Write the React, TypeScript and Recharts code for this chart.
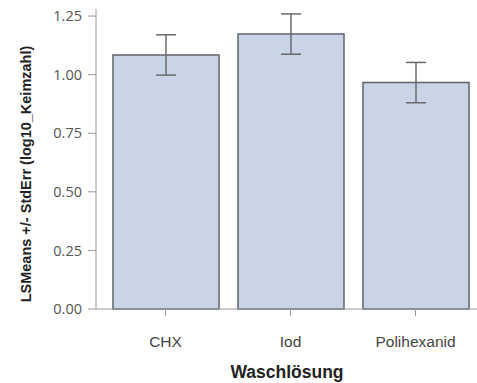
import { BarChart, Bar, XAxis, YAxis, ErrorBar, Label } from "recharts";

const categories = ["CHX", "Iod", "Polihexanid"];
const lsMeans = [1.084, 1.173, 0.966];
const stdErr = [0.086, 0.086, 0.086];
const yTicks = [0, 0.25, 0.5, 0.75, 1.0, 1.25];
const yMax = 1.28;

const data = categories.map((name, i) => ({ name, mean: lsMeans[i], err: stdErr[i] }));

const SEGOE = "'Open Sans', 'DejaVu Sans', sans-serif";
const ARIAL = "'Liberation Sans', Arial, sans-serif";

export default function App() {
  return (
    <div style={{ position: "absolute", left: 0, top: 0, width: 477, height: 383, overflow: "hidden", background: "#fff" }}>
      <BarChart width={480} height={383} data={data} margin={{ top: 9, right: 2, bottom: 0, left: 0 }}>
        <XAxis xAxisId="frame" dataKey="name" orientation="top" height={0} tick={false} tickLine={false} stroke="#d4d4d4" strokeWidth={1.5} />
        <XAxis
          dataKey="name"
          height={74}
          padding={{ left: 7, right: 0 }}
          stroke="#9a9a9a"
          tickSize={7}
          tickMargin={20}
          tick={{ fill: "#444", fontSize: 15.5, fontFamily: ARIAL }}
        >
          <Label value="Waschlösung" position="insideBottom" offset={5} style={{ fill: "#222", fontSize: 17.5, fontWeight: 700, fontFamily: ARIAL }} />
        </XAxis>
        <YAxis
          width={96}
          domain={[0, yMax]}
          ticks={yTicks}
          tickFormatter={(v: number) => v.toFixed(2)}
          stroke="#9a9a9a"
          tickSize={8}
          tickMargin={6}
          tick={{ fill: "#555", fontSize: 14.5, fontFamily: SEGOE }}
        >
          <Label
            content={({ viewBox }) => {
              const { x, y, height } = viewBox as { x: number; y: number; height: number };
              const cx = x + 26;
              const cy = y + height / 2 + 15;
              return (
                <text x={cx} y={cy} transform={`rotate(-90 ${cx} ${cy})`} textAnchor="middle" dominantBaseline="central" fill="#222" fontSize={14.5} fontWeight={700} fontFamily={ARIAL}>
                  LSMeans +/- StdErr (log10_Keimzahl)
                </text>
              );
            }}
          />
        </YAxis>
        <Bar dataKey="mean" barSize={106} fill="#c9d5e6" stroke="#5f646b" strokeWidth={1.5} isAnimationActive={false}>
          <ErrorBar dataKey="err" width={10} stroke="#6a6a6a" strokeWidth={1.5} direction="y" />
        </Bar>
      </BarChart>
    </div>
  );
}
